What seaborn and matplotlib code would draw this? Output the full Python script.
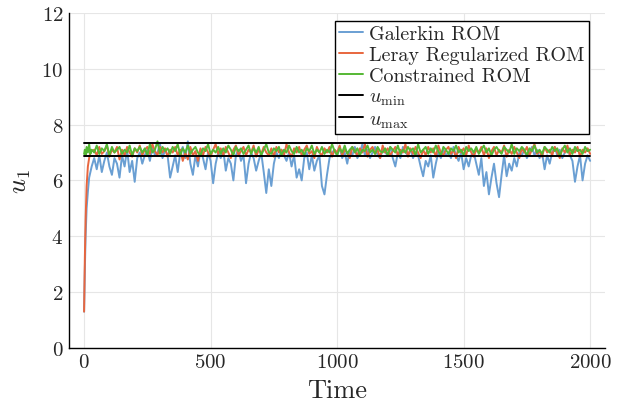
import numpy as np
import pandas as pd
import matplotlib
matplotlib.use("Agg")
import matplotlib.pyplot as plt
import seaborn as sns
from matplotlib.lines import Line2D

# ---------------- data ----------------
t_start = [0, 3, 6, 10, 15, 20, 25, 30]
t_main = list(range(40, 2001, 10))
time = t_start + t_main

galerkin = [1.3, 2.8, 4.0, 5.0, 5.6, 6.1, 6.3, 6.5,
    6.8, 6.4, 6.9, 6.3, 6.7, 7.0, 6.5, 6.2, 6.8, 6.6,
    6.1, 6.9, 6.5, 7.1, 6.3, 6.7, 5.95, 6.8, 7.0, 6.6,
    6.9, 7.1, 6.7, 7.2, 6.9, 7.0, 7.3, 6.8, 7.1, 6.9,
    6.1, 6.5, 6.9, 6.3, 7.0, 7.2, 6.8, 7.4, 6.6, 6.2,
    6.9, 6.5, 7.1, 6.8, 6.4, 7.0, 6.7, 5.9, 6.6, 7.0,
    6.8, 7.1, 6.35, 6.8, 6.6, 6.0, 6.9, 7.1, 6.7, 6.9,
    5.9, 6.6, 7.0, 6.8, 6.35, 6.7, 7.0, 6.3, 5.55, 6.4,
    5.8, 6.6, 7.0, 6.8, 7.1, 6.9, 6.7, 7.0, 6.5, 6.9,
    6.1, 6.4, 6.0, 6.8, 7.0, 6.4, 6.9, 6.35, 6.7, 6.9,
    5.8, 5.5, 6.2, 6.8, 7.0, 7.1, 6.9, 7.2, 6.8, 7.0,
    6.6, 7.1, 6.9, 7.2, 6.8, 7.0, 7.3, 6.9, 7.1, 6.8,
    7.0, 7.2, 6.9, 6.8, 7.1, 7.0, 6.9, 7.2, 6.8, 6.5,
    7.0, 6.8, 7.2, 7.0, 6.9, 7.1, 6.8, 7.0, 6.9, 6.5,
    6.15, 6.7, 6.5, 6.9, 6.1, 6.6, 7.0, 6.8, 7.1, 6.9,
    7.0, 6.8, 7.2, 6.9, 6.7, 7.0, 6.4, 6.8, 6.5, 6.9,
    7.0, 6.6, 6.2, 6.8, 5.8, 6.3, 5.5, 6.1, 6.6, 5.9,
    5.4, 6.2, 6.9, 6.15, 6.6, 6.35, 6.8, 6.5, 7.0, 6.9,
    7.1, 6.8, 7.0, 7.2, 6.9, 7.1, 6.8, 7.0, 6.4, 6.9,
    6.6, 7.0, 7.2, 6.9, 7.1, 6.8, 7.0, 7.2, 6.9, 6.7,
    5.95, 6.5, 6.9, 6.0, 6.6, 6.9, 6.7]

leray = [1.3, 3.2, 4.6, 5.8, 6.5, 6.8, 7.0, 7.05,
    7.1, 6.9, 7.2, 6.95, 7.05, 7.25, 6.85, 7.1, 7.0, 7.2,
    6.75, 7.1, 6.9, 7.2, 7.0, 6.85, 7.15, 7.0, 7.25, 6.9,
    7.1, 7.2, 6.95, 7.3, 7.05, 6.9, 7.2, 7.0, 7.15, 6.85,
    7.1, 7.0, 7.2, 6.9, 7.1, 6.7, 7.0, 6.75, 7.2, 6.9,
    7.05, 6.7, 7.15, 6.9, 7.2, 7.0, 6.85, 7.1, 7.3, 6.95,
    7.15, 6.9, 7.2, 7.0, 6.8, 7.1, 7.25, 6.9, 7.05, 7.2,
    6.9, 7.1, 7.0, 7.25, 6.85, 7.1, 6.95, 7.2, 7.0, 6.9,
    7.15, 6.85, 7.2, 7.0, 7.1, 6.9, 7.3, 7.0, 6.85, 7.15,
    7.0, 7.2, 6.9, 7.1, 7.25, 6.95, 7.05, 6.8, 7.2, 7.0,
    6.9, 7.15, 7.0, 7.2, 6.85, 7.1, 7.0, 7.25, 6.9, 7.1,
    7.0, 6.8, 7.2, 7.05, 6.9, 7.15, 7.0, 7.3, 6.85, 7.1,
    7.2, 6.95, 7.1, 6.8, 7.25, 7.0, 7.15, 6.9, 7.05, 7.2,
    6.9, 7.1, 7.0, 7.3, 6.85, 7.15, 6.95, 7.2, 7.0, 6.8,
    7.1, 6.9, 7.2, 7.0, 7.15, 6.85, 7.25, 7.0, 6.9, 7.1,
    7.2, 6.95, 7.1, 6.8, 7.2, 7.0, 7.15, 6.9, 7.25, 7.0,
    6.85, 7.1, 7.0, 7.2, 6.9, 7.15, 6.8, 7.05, 7.2, 6.9,
    7.1, 7.0, 7.25, 6.85, 7.1, 6.95, 7.2, 7.0, 6.8, 7.15,
    7.0, 7.2, 6.9, 7.1, 7.3, 6.95, 7.05, 6.85, 7.2, 7.0,
    7.1, 6.9, 7.2, 7.0, 6.8, 7.15, 7.0, 7.25, 6.9, 7.1,
    7.0, 7.2, 6.85, 7.1, 7.0, 7.15, 6.95]

constrained = [6.95, 7.1, 6.9, 7.2, 7.0, 7.3, 6.95, 7.1,
    7.0, 7.25, 6.95, 7.15, 7.05, 7.3, 6.9, 7.2, 7.0, 7.1,
    7.2, 6.95, 7.1, 7.0, 7.25, 6.9, 7.15, 7.05, 7.2, 7.0,
    7.15, 6.9, 7.3, 7.0, 7.1, 7.4, 6.95, 7.2, 7.05, 7.15,
    6.95, 7.2, 7.05, 7.3, 6.9, 7.15, 7.0, 7.25, 6.95, 7.1,
    7.2, 7.0, 6.9, 7.15, 7.05, 7.3, 6.95, 7.1, 7.0, 7.2,
    6.95, 7.15, 7.0, 7.25, 7.1, 6.9, 7.2, 7.05, 7.15, 6.95,
    7.1, 7.25, 6.95, 7.15, 7.0, 7.2, 6.9, 7.1, 7.3, 7.0,
    6.95, 7.15, 7.05, 7.2, 6.9, 7.1, 7.0, 7.25, 7.05, 6.95,
    7.2, 7.0, 7.1, 6.9, 7.15, 7.05, 7.25, 6.95, 7.1, 7.0,
    7.2, 6.95, 7.1, 7.0, 7.3, 7.05, 6.9, 7.15, 7.0, 7.25,
    6.95, 7.1, 7.2, 7.0, 7.15, 6.9, 7.1, 7.05, 7.25, 7.0,
    7.1, 6.95, 7.2, 7.05, 7.0, 7.15, 6.9, 7.2, 7.1, 7.0,
    7.25, 6.95, 7.1, 7.0, 7.2, 7.05, 7.15, 6.9, 7.3, 7.0,
    7.1, 7.2, 6.95, 7.15, 7.0, 7.25, 7.05, 6.9, 7.2, 7.1,
    6.95, 7.15, 7.05, 7.25, 7.0, 7.1, 6.9, 7.2, 7.05, 7.15,
    7.0, 7.2, 6.95, 7.1, 7.25, 7.0, 7.15, 6.9, 7.1, 7.2,
    7.05, 6.95, 7.2, 7.1, 7.0, 7.3, 6.95, 7.15, 7.05, 7.2,
    7.1, 6.9, 7.15, 7.05, 7.25, 7.0, 7.1, 6.95, 7.2, 7.1,
    7.0, 7.2, 7.05, 7.15, 6.9, 7.1, 7.25, 7.0, 7.15, 6.95,
    7.2, 7.05, 7.1, 6.95, 7.2, 7.05, 7.1]

u_min = 6.86
u_max = 7.33
bound_time = [0, 2000]

labels = ["Galerkin ROM", "Leray Regularized ROM", "Constrained ROM"]
colors = ["#6a9fd3", "#e8663e", "#55b834"]

# ---------------- style ----------------
sns.set_style("white")
plt.rcParams["font.family"] = ["cmr10", "DejaVu Sans"]
plt.rcParams["mathtext.fontset"] = "cm"
plt.rcParams["axes.formatter.use_mathtext"] = True

df = pd.DataFrame({
    "Time": time * 3,
    "u": galerkin + leray + constrained,
    "model": [labels[0]] * len(time) + [labels[1]] * len(time) + [labels[2]] * len(time),
})
df_b = pd.DataFrame({"Time": bound_time * 2,
                     "u": [u_min, u_min, u_max, u_max],
                     "b": ["min", "min", "max", "max"]})

fig = plt.figure(figsize=(6.38, 4.10), dpi=100)
ax = fig.add_axes([0.108, 0.149, 0.840, 0.817])

sns.lineplot(data=df, x="Time", y="u", hue="model", hue_order=labels,
             palette=colors, linewidth=1.4, ax=ax, legend=False, sort=False)
sns.lineplot(data=df_b, x="Time", y="u", units="b", estimator=None,
             color="black", linewidth=1.4, ax=ax, legend=False)

ax.set_xlim(-60, 2058)
ax.set_ylim(0, 12)
ax.set_xticks([0, 500, 1000, 1500, 2000])
ax.set_yticks([0, 2, 4, 6, 8, 10, 12])
ax.grid(True, color="#e6e6e6", linewidth=0.8)
ax.set_axisbelow(True)
for s in ["top", "right"]:
    ax.spines[s].set_visible(False)
for s in ["left", "bottom"]:
    ax.spines[s].set_color("black")
    ax.spines[s].set_linewidth(1.0)
ax.tick_params(axis="both", labelsize=15, direction="in", length=4,
               color="#bbbbbb", pad=4)
ax.set_xlabel("Time", fontsize=19, labelpad=5)
ax.set_ylabel("$u_1$", fontsize=19, labelpad=6)

handles = [Line2D([], [], color=c, linewidth=1.4) for c in colors]
handles += [Line2D([], [], color="black", linewidth=1.4)] * 2
leg_labels = labels + [r"$u_{\mathrm{min}}$", r"$u_{\mathrm{max}}$"]
leg = ax.legend(handles, leg_labels, loc="upper right",
                bbox_to_anchor=(0.970, 0.976), borderaxespad=0,
                fontsize=14.5, frameon=True, fancybox=False,
                edgecolor="black", framealpha=1, handlelength=1.2,
                handletextpad=0.3, labelspacing=0.14, borderpad=0.2)
leg.get_frame().set_linewidth(1.0)

fig.savefig("out.png", dpi=100)
